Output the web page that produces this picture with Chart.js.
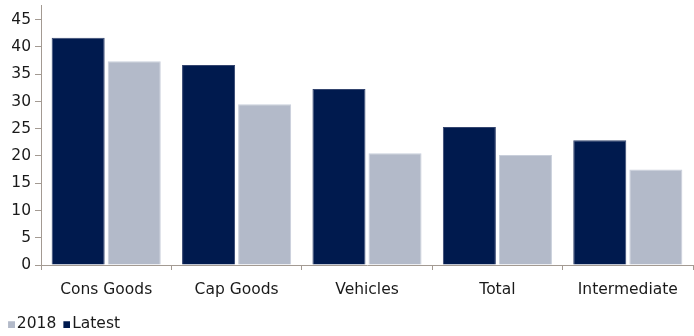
<!DOCTYPE html>
<html lang="en">
<head>
    <meta charset="UTF-8">
    <title>Latest vs 2018</title>
    <script src="https://cdn.jsdelivr.net/npm/chart.js"></script>
    <style>
        html, body {
            margin: 0;
            padding: 0;
            background: #ffffff;
        }
        .chart-box {
            width: 694px;
            height: 336px;
            position: relative;
        }
    </style>
</head>
<body>
    <div class="chart-box">
        <canvas id="barChart"></canvas>
    </div>

    <script>
        const categories = ["Cons Goods", "Cap Goods", "Vehicles", "Total", "Intermediate"];
        const latestValues = [41.7, 36.7, 32.3, 25.3, 22.9];
        const values2018 = [37.4, 29.5, 20.5, 20.2, 17.5];
        const yTicks = [0, 5, 10, 15, 20, 25, 30, 35, 40, 45];

        const axisColor = "#a39a92";
        const textColor = "#1a1a1a";
        const latestColor = "#001a4e";
        const color2018 = "#b3bac9";
        const fontFamily = "'DejaVu Sans', Verdana, sans-serif";
        const fontSize = 15.5;

        // legend swatch: small square pushed to the right side of the image,
        // so it sits close to its text like in the original
        function swatch(color) {
            let c = document.createElement("canvas");
            c.width = 12;
            c.height = 8;
            let ctx = c.getContext("2d");
            ctx.fillStyle = color;
            ctx.fillRect(5, 1, 7, 7);
            return c;
        }

        new Chart(document.getElementById("barChart"), {
            type: 'bar',
            data: {
                labels: categories,
                datasets: [
                    {
                        label: "Latest",
                        data: latestValues,
                        backgroundColor: latestColor,
                        borderColor: "#34456f",
                        borderWidth: 1,
                        pointStyle: swatch(latestColor)
                    },
                    {
                        label: "2018",
                        data: values2018,
                        backgroundColor: color2018,
                        borderColor: "#c9cfdb",
                        borderWidth: 1,
                        pointStyle: swatch(color2018)
                    }
                ]
            },
            options: {
                responsive: true,
                maintainAspectRatio: false,
                animation: false,
                layout: {
                    padding: { top: 5, right: 1, left: 1, bottom: -6 }
                },
                datasets: {
                    bar: {
                        categoryPercentage: 0.86,
                        barPercentage: 0.946
                    }
                },
                plugins: {
                    legend: {
                        position: 'bottom',
                        align: 'start',
                        reverse: true,
                        labels: {
                            usePointStyle: true,
                            boxWidth: 0.1,
                            boxHeight: 7,
                            padding: 8,
                            color: textColor,
                            font: { family: fontFamily, size: fontSize }
                        }
                    },
                    tooltip: { enabled: false }
                },
                scales: {
                    x: {
                        afterFit: function(axis) {
                            axis.height = 43.5;
                        },
                        grid: {
                            drawOnChartArea: false,
                            drawTicks: true,
                            tickLength: 5,
                            color: axisColor
                        },
                        border: { color: axisColor, width: 1 },
                        ticks: {
                            color: textColor,
                            padding: 10.5,
                            font: { family: fontFamily, size: fontSize }
                        }
                    },
                    y: {
                        min: 0,
                        max: 47.7,
                        afterBuildTicks: function(axis) {
                            axis.ticks = yTicks.map(v => ({ value: v }));
                        },
                        afterFit: function(axis) {
                            axis.width = 40;
                            axis.paddingTop = 0;
                            axis.paddingBottom = 0;
                        },
                        grid: {
                            drawOnChartArea: false,
                            drawTicks: true,
                            tickLength: 6,
                            color: axisColor
                        },
                        border: { color: axisColor, width: 1 },
                        ticks: {
                            color: textColor,
                            padding: 4,
                            font: { family: fontFamily, size: fontSize }
                        }
                    }
                }
            }
        });
    </script>
</body>
</html>
